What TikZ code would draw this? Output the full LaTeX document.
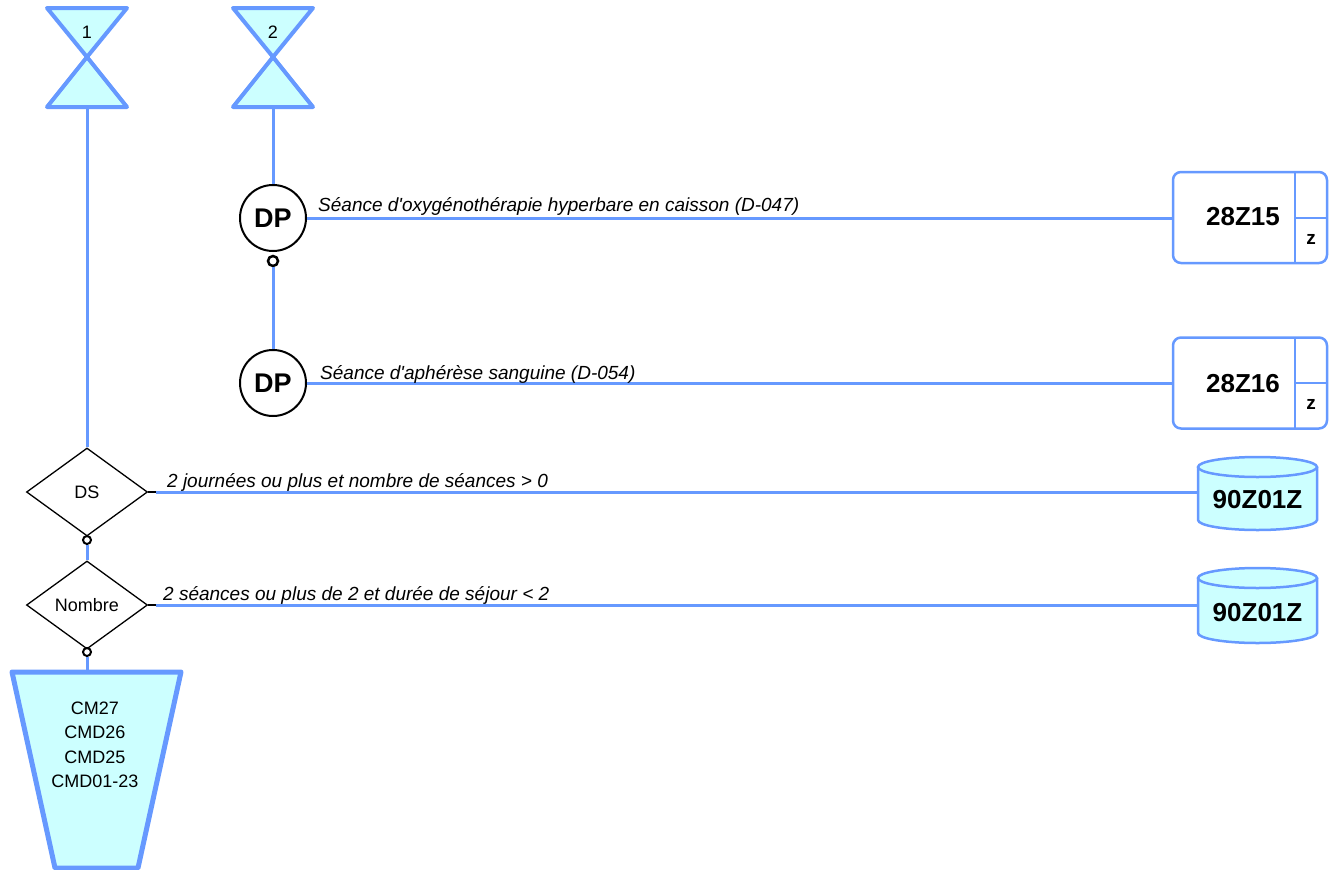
\documentclass[tikz,border=0pt]{standalone}
\usepackage{fontspec}
\setmainfont{Liberation Sans}
\usetikzlibrary{shapes.geometric}
\definecolor{lblue}{RGB}{102,153,255}
\definecolor{lcyan}{RGB}{204,255,255}
\newcommand\myfs[1]{\fontsize{#1}{#1}\selectfont}
\begin{document}
\begin{tikzpicture}[x=1pt,y=-1pt,
  conn/.style={draw=lblue,line width=3pt},
  stub/.style={draw=black,line width=1.5pt},
  port/.style={circle,draw=black,line width=2pt,fill=white,inner sep=0pt,minimum size=8pt},
  dpnode/.style={circle,draw=black,line width=2pt,fill=white,minimum size=66pt,inner sep=0pt,font=\myfs{27}\bfseries},
  decision/.style={diamond,draw=black,line width=1.3pt,fill=white,minimum width=121pt,minimum height=88pt,inner sep=0pt,font=\myfs{18}},
  lab/.style={anchor=base west,inner sep=0pt,font=\myfs{19}\itshape},
  glass/.style={draw=lblue,fill=lcyan,line width=4pt,line join=round},
  outbox/.style={draw=lblue,fill=white,line width=2.5pt,rounded corners=8pt,minimum width=154pt,minimum height=91pt,inner sep=0pt},
  boxtxt/.style={font=\myfs{26}\bfseries,inner sep=0pt},
  ztxt/.style={font=\myfs{19}\bfseries,inner sep=0pt},
  cyl/.style={draw=lblue,fill=lcyan,line width=2.5pt},
  cyltxt/.style={font=\myfs{26}\bfseries,inner sep=0pt}
]
\useasboundingbox (0,0) rectangle (1336,870);

% hourglasses
\draw[glass] (47,8) -- (127,8) -- (87,57) -- cycle;
\draw[glass] (87,57) -- (127,107) -- (47,107) -- cycle;
\node[font=\myfs{18}] (h1) at (87,32) {1};
\coordinate (h1b) at (87,107);
\draw[glass] (233,8) -- (313,8) -- (273,57) -- cycle;
\draw[glass] (273,57) -- (313,107) -- (233,107) -- cycle;
\node[font=\myfs{18}] (h2) at (273,32) {2};
\coordinate (h2b) at (273,107);

% output boxes
\node[outbox] (b1) at (1250,217.5) {};
\draw[draw=lblue,line width=2.5pt] (1295,172) -- (1295,263) (1295,218) -- (1327,218);
\node[boxtxt] (b1t) at (1243,217) {28Z15};
\node[ztxt] (b1z) at (1311,239) {z};

\node[outbox] (b2) at (1250,383) {};
\draw[draw=lblue,line width=2.5pt] (1295,338) -- (1295,428) (1295,383) -- (1327,383);
\node[boxtxt] (b2t) at (1243,384) {28Z16};
\node[ztxt] (b2z) at (1311,404) {z};

% cylinders
\draw[cyl] (1198,467) -- (1198,520) arc[start angle=180,end angle=360,x radius=59.5pt,y radius=10pt] -- (1317,467);
\draw[cyl] (1257.5,467) ellipse[x radius=59.5pt,y radius=10pt];
\node[cyltxt] (c1) at (1257.5,500) {90Z01Z};
\coordinate (c1w) at (1198,492);

\draw[cyl] (1198,578) -- (1198,633) arc[start angle=180,end angle=360,x radius=59.5pt,y radius=10pt] -- (1317,578);
\draw[cyl] (1257.5,578) ellipse[x radius=59.5pt,y radius=10pt];
\node[cyltxt] (c2) at (1257.5,613) {90Z01Z};
\coordinate (c2w) at (1198,605);

% trapezoid
\draw[draw=lblue,fill=lcyan,line width=5pt,line join=round] (12,672) -- (181,672) -- (138,868) -- (55,868) -- cycle;
\node[font=\myfs{18},align=center,inner sep=0pt] (cmd) at (95,745) {CM27\\[6.5pt]CMD26\\[6.5pt]CMD25\\[6.5pt]CMD01-23};
\coordinate (trtop) at (87,672);

% DP nodes
\node[dpnode] (dp1) at (273,218) {DP};
\node[dpnode] (dp2) at (273,383) {DP};

% decisions
\node[decision] (ds) at (87,492) {DS};
\node[decision] (nb) at (87,605) {Nombre};

% connectors
\draw[conn] (h1b) -- (ds.north);
\draw[conn] (h2b) -- (dp1.north);
\node[port,minimum size=10pt,line width=2.5pt] (p1) at (273,261) {};
\draw[conn] (p1.south) -- (dp2.north);
\draw[conn] (dp1.east) -- (dp1.east -| b1.west);
\draw[conn] (dp2.east) -- (dp2.east -| b2.west);

\coordinate (dse) at (156,492);
\draw[stub] (ds.east) -- (dse);
\draw[conn] (dse) -- (c1w);
\coordinate (nbe) at (156,605);
\draw[stub] (nb.east) -- (nbe);
\draw[conn] (nbe) -- (c2w);

\node[port] (p3) at (87,540) {};
\draw[conn] (p3.south) -- (nb.north);
\node[port] (p4) at (87,652) {};
\draw[conn] (p4.south) -- (trtop);

% labels
\node[lab] (l1) at (318,211) {Séance d\textquotesingle oxygénothérapie hyperbare en caisson (D-047)};
\node[lab] (l2) at (320,379) {Séance d\textquotesingle aphérèse sanguine (D-054)};
\node[lab] (l3) at (167,487) {2 journées ou plus et nombre de séances > 0};
\node[lab] (l4) at (163,600) {2 séances ou plus de 2 et durée de séjour < 2};
\end{tikzpicture}
\end{document}
